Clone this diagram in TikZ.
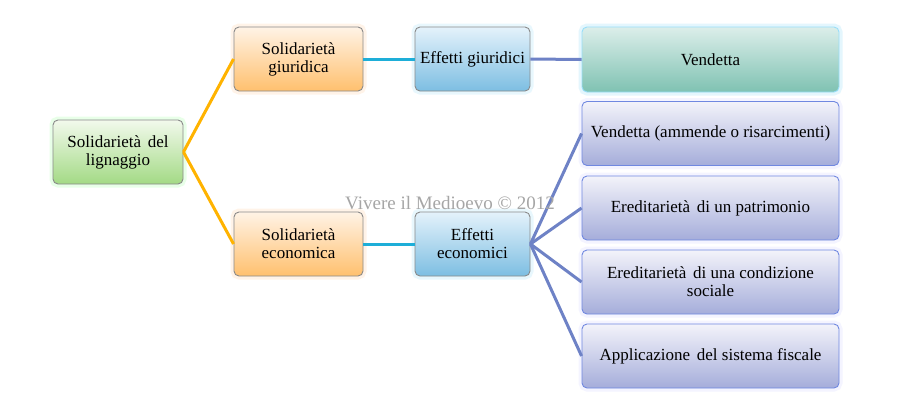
\documentclass[tikz,border=0pt]{standalone}
\usepackage{fontspec}
\setmainfont{Liberation Serif}
\definecolor{gborder}{HTML}{8A8A8A}
\definecolor{orln}{HTML}{FFB300}
\definecolor{cyln}{HTML}{1EAED8}
\definecolor{blln}{HTML}{6E82C6}
\definecolor{grtop}{HTML}{F2F9EC}
\definecolor{grbot}{HTML}{A3DA85}
\definecolor{ortop}{HTML}{FFF3E6}
\definecolor{orbot}{HTML}{FFC06E}
\definecolor{bltop}{HTML}{E4F2FB}
\definecolor{blbot}{HTML}{7DBEE2}
\definecolor{tetop}{HTML}{DCEEEA}
\definecolor{tebot}{HTML}{7FC2B2}
\definecolor{latop}{HTML}{F3F3FA}
\definecolor{labot}{HTML}{A5ADDA}
\definecolor{laborder}{HTML}{7088E0}
\newcommand{\wsp}{\ \hspace{2.5pt}}
\begin{document}
\begin{tikzpicture}[x=1pt,y=-1pt,
  box/.style={rounded corners=5pt, draw=gborder, line width=0.9pt, align=center,
    font=\fontsize{17}{18}\selectfont, inner sep=0pt, minimum height=64pt},
  glow/.style={preaction={draw=#1, line width=7pt, opacity=0.35}},
  rootbox/.style={box, top color=grtop, bottom color=grbot, glow=green!25, minimum width=130pt},
  orbox/.style={box, top color=ortop, bottom color=orbot, glow=orange!25, minimum width=129pt},
  blbox/.style={box, top color=bltop, bottom color=blbot, glow=cyan!25, minimum width=115pt},
  tebox/.style={box, top color=tetop, bottom color=tebot, draw=cyan!40, glow=cyan!30, minimum width=257pt, minimum height=65pt},
  labox/.style={box, top color=latop, bottom color=labot, draw=laborder, glow=blue!12, minimum width=257pt},
  orline/.style={draw=orln, line width=3pt},
  cyline/.style={draw=cyln, line width=3pt},
  blline/.style={draw=blln, line width=3pt}]
\useasboundingbox (0,0) rectangle (900,410);
\fill[white] (0,0) rectangle (900,410);

\node[rootbox] (root) at (118,152) {Solidarietà\wsp del\\lignaggio};
\node[orbox] (sg) at (298.5,59) {Solidarietà\\giuridica};
\node[orbox] (se) at (298.5,244) {Solidarietà\\economica};
\node[blbox] (eg) at (472.5,59) {Effetti giuridici};
\node[blbox] (ee) at (472.5,244) {Effetti\\economici};
\node[tebox] (v) at (710.5,59.5) {Vendetta};
\node[labox] (r1) at (710.5,133.5) {Vendetta (ammende o risarcimenti)};
\node[labox] (r2) at (710.5,208) {Ereditarietà\wsp di un patrimonio};
\node[labox] (r3) at (710.5,282) {Ereditarietà\wsp di una condizione\\sociale};
\node[labox] (r4) at (710.5,356) {Applicazione\wsp del sistema fiscale};

\draw[orline] (root.east) -- (sg.west);
\draw[orline] (root.east) -- (se.west);
\draw[cyline] (sg.east) -- (eg.west);
\draw[cyline] (se.east) -- (ee.west);
\draw[blline] (eg.east) -- (v.west);
\foreach \n in {r1,r2,r3,r4} \draw[blline] (ee.east) -- (\n.west);

\node[font=\fontsize{19}{20}\selectfont, text=gray!70] (wm) at (450,203) {Vivere il Medioevo © 2012};
\end{tikzpicture}
\end{document}
